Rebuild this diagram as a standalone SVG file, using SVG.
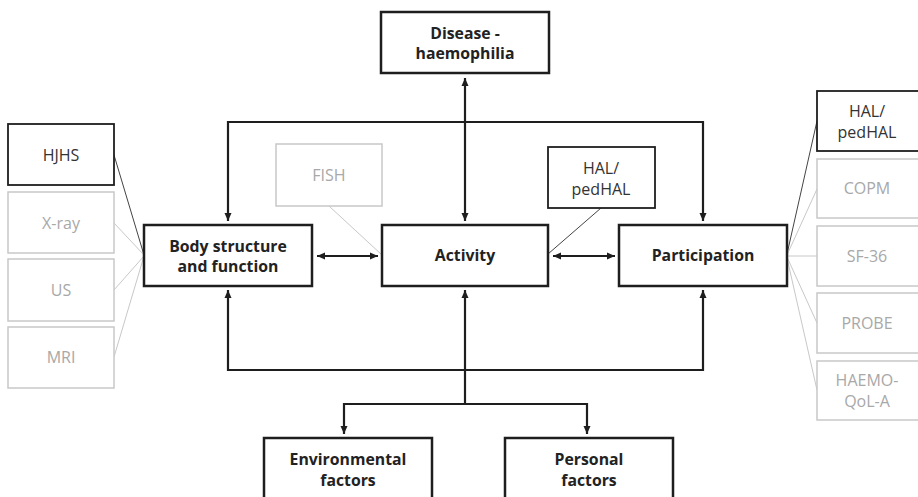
<svg xmlns="http://www.w3.org/2000/svg" width="918" height="497" viewBox="0 0 918 497">
<style>
.bg{fill:#fff}
.main rect{fill:#fff;stroke:#1e1e1e;stroke-width:2.5}
.main text{font-family:"Open Sans","Liberation Sans",sans-serif;font-size:15.8px;font-weight:bold;fill:#222;text-anchor:middle}
.tool rect{fill:#fff;stroke:#1e1e1e;stroke-width:1.8}
.tool text{font-family:"Open Sans","Liberation Sans",sans-serif;font-size:16px;fill:#333;text-anchor:middle}
.lt rect{fill:#fff;stroke:#c8c8c8;stroke-width:1.5}
.lt text{font-family:"Open Sans","Liberation Sans",sans-serif;font-size:16px;fill:#a8a8a8;text-anchor:middle}
.con path,.con line{fill:none;stroke:#1e1e1e;stroke-width:2.2}
.thin line{stroke-width:1}
.thin .d{stroke:#444}
.thin .l{stroke:#c8c8c8}
</style>
<defs>
<marker id="ah" viewBox="0 0 8 8" refX="8" refY="4" markerWidth="8" markerHeight="8" markerUnits="userSpaceOnUse" orient="auto-start-reverse">
<path d="M0,0.5 L8,4 L0,7.5 z" fill="#1e1e1e"/>
</marker>
</defs>
<rect class="bg" x="0" y="0" width="918" height="497"/>
<g class="con">
<line x1="465" y1="78" x2="465" y2="221" marker-start="url(#ah)" marker-end="url(#ah)"/>
<path d="M228,221 L228,122 L703,122 L703,221" marker-start="url(#ah)" marker-end="url(#ah)"/>
<path d="M228,290 L228,370 L703,370 L703,290" marker-start="url(#ah)" marker-end="url(#ah)"/>
<line x1="465" y1="290" x2="465" y2="404" marker-start="url(#ah)"/>
<path d="M344,434 L344,404 L587,404 L587,434" marker-start="url(#ah)" marker-end="url(#ah)"/>
<line x1="317" y1="256" x2="378" y2="256" marker-start="url(#ah)" marker-end="url(#ah)"/>
<line x1="553" y1="256" x2="615" y2="256" marker-start="url(#ah)" marker-end="url(#ah)"/>
<g class="thin">
<line class="d" x1="114" y1="155" x2="144" y2="255"/>
<line class="l" x1="114" y1="223" x2="144" y2="255"/>
<line class="l" x1="114" y1="290" x2="144" y2="256"/>
<line class="l" x1="114" y1="357" x2="144" y2="256"/>
<line class="l" x1="329" y1="206" x2="382" y2="255"/>
<line class="d" x1="601" y1="208" x2="548" y2="254"/>
<line class="d" x1="787" y1="254" x2="817" y2="121"/>
<line class="l" x1="787" y1="255" x2="817" y2="189"/>
<line class="l" x1="787" y1="256" x2="817" y2="256"/>
<line class="l" x1="787" y1="257" x2="817" y2="323"/>
<line class="l" x1="787" y1="258" x2="817" y2="390"/>
</g>
</g>
<g id="disease" class="main"><rect x="381" y="12" width="168" height="61"/><text x="465" y="39">Disease -</text><text x="465" y="59">haemophilia</text></g>
<g id="body" class="main"><rect x="144" y="225" width="168" height="61"/><text x="228" y="252">Body structure</text><text x="228" y="272">and function</text></g>
<g id="activity" class="main"><rect x="382" y="225" width="166" height="61"/><text x="465" y="261">Activity</text></g>
<g id="participation" class="main"><rect x="619" y="225" width="168" height="61"/><text x="703" y="261">Participation</text></g>
<g id="environmental" class="main"><rect x="264" y="438" width="168" height="70"/><text x="348" y="465">Environmental</text><text x="348" y="486">factors</text></g>
<g id="personal" class="main"><rect x="505" y="438" width="168" height="70"/><text x="589" y="465">Personal</text><text x="589" y="486">factors</text></g>
<g id="hjhs" class="tool"><rect x="8" y="124" width="106" height="61"/><text x="61" y="161">HJHS</text></g>
<g id="xray" class="lt"><rect x="8" y="192" width="106" height="61"/><text x="61" y="229">X-ray</text></g>
<g id="us" class="lt"><rect x="8" y="259" width="106" height="62"/><text x="61" y="296">US</text></g>
<g id="mri" class="lt"><rect x="8" y="327" width="106" height="61"/><text x="61" y="363">MRI</text></g>
<g id="fish" class="lt"><rect x="276" y="144" width="106" height="62"/><text x="329" y="181">FISH</text></g>
<g id="hal-mid" class="tool"><rect x="548" y="147" width="107" height="61"/><text x="601" y="174">HAL/</text><text x="601" y="195">pedHAL</text></g>
<g id="hal-right" class="tool"><rect x="817" y="91" width="110" height="60"/><text x="867" y="117">HAL/</text><text x="867" y="138">pedHAL</text></g>
<g id="copm" class="lt"><rect x="817" y="159" width="110" height="59"/><text x="867" y="194">COPM</text></g>
<g id="sf36" class="lt"><rect x="817" y="226" width="110" height="60"/><text x="867" y="262">SF-36</text></g>
<g id="probe" class="lt"><rect x="817" y="293" width="110" height="60"/><text x="867" y="329">PROBE</text></g>
<g id="haemo" class="lt"><rect x="817" y="361" width="110" height="59"/><text x="867" y="386">HAEMO-</text><text x="867" y="407">QoL-A</text></g>
</svg>
